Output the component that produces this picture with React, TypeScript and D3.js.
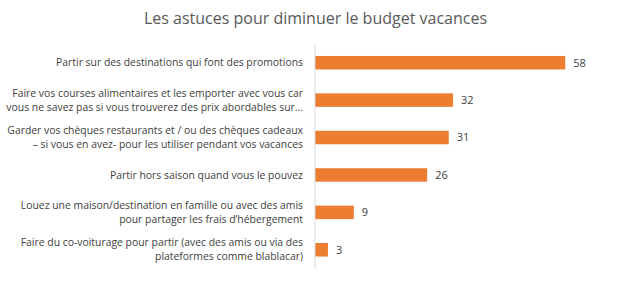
import React from "react";
import * as d3 from "d3";

const title = "Les astuces pour diminuer le budget vacances";
const categories: string[][] = [
  ["Partir sur des destinations qui font des promotions"],
  ["Faire vos courses alimentaires et les emporter avec vous car", "vous ne savez pas si vous trouverez des prix abordables sur..."],
  ["Garder vos chèques restaurants et / ou des chèques cadeaux", "– si vous en avez- pour les utiliser pendant vos vacances"],
  ["Partir hors saison quand vous le pouvez"],
  ["Louez une maison/destination en famille ou avec des amis", "pour partager les frais d’hébergement"],
  ["Faire du co-voiturage pour partir (avec des amis ou via des", "plateformes comme blablacar)"],
];
const values = [58, 32, 31, 26, 9, 3];
const xMax = 70;

export default function App() {
  const W = 625, H = 281;
  const x = d3.scaleLinear().domain([0, xMax]).range([315, 617]);
  const y = d3.scaleBand<number>().domain(d3.range(values.length)).range([44, 268.5]).paddingInner(0.64).paddingOuter(0.32);
  const font = "'Open Sans', 'Noto Sans', sans-serif";
  return (
    <svg width={W} height={H} style={{ position: "absolute", left: 0, top: 0, background: "#fff" }}>
      <text x={315.5} y={24} textAnchor="middle" fontFamily={font} fontSize={16} fill="#595959">{title}</text>
      {values.map((v, i) => {
        const cy = y(i)! + y.bandwidth() / 2;
        const lines = categories[i];
        const lh = 14;
        return (
          <g key={i}>
            <rect x={x(0)} y={y(i)} width={x(v) - x(0)} height={y.bandwidth()} fill="#ED7D31" />
            <text x={x(v) + 8} y={cy} dy="0.35em" fontFamily={font} fontSize={11} fill="#404040">{v}</text>
            {lines.map((l, j) => (
              <text key={j} x={303} y={cy + (j - (lines.length - 1) / 2) * lh} dy="0.35em" textAnchor="end"
                fontFamily={font} fontSize={10.4} fill="#404040">{l}</text>
            ))}
          </g>
        );
      })}
      <line x1={x(0)} x2={x(0)} y1={44} y2={269} stroke="#D9D9D9" strokeWidth={1} />
    </svg>
  );
}
